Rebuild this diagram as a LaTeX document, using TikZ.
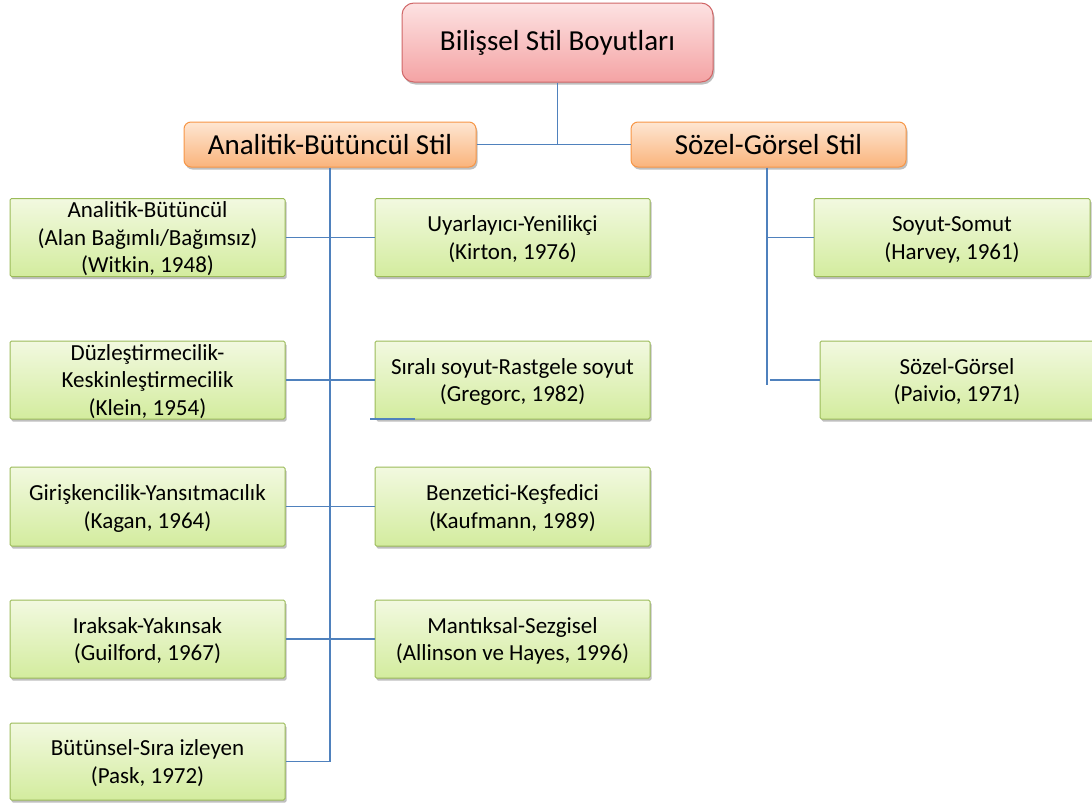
\documentclass[tikz,border=0pt]{standalone}
\usepackage{fontspec}
\setmainfont{Carlito}
\usetikzlibrary{shadows}
\definecolor{lineblue}{HTML}{4F81BD}
\definecolor{gborder}{HTML}{9BBB59}
\definecolor{gtop}{HTML}{F2F9E0}
\definecolor{gbot}{HTML}{D3EC9E}
\definecolor{oborder}{HTML}{F79646}
\definecolor{otop}{HTML}{FEE6D2}
\definecolor{obot}{HTML}{FAB47C}
\definecolor{rborder}{HTML}{D06667}
\definecolor{rtop}{HTML}{FDE2E2}
\definecolor{rbot}{HTML}{F4A3A4}
\newcommand\gtext[1]{\raisebox{-8.5pt}[30pt][30pt]{\begin{tabular}{@{}c@{}}#1\end{tabular}}}
\tikzset{
  shad/.style={drop shadow={shadow xshift=1.5pt,shadow yshift=-2.5pt,fill=black,opacity=0.25}},
  gbox/.style={shad,draw=gborder,line width=1pt,top color=gtop,bottom color=gbot,
    rounded corners=1.5pt,font=\fontsize{23}{27.5}\selectfont,
    minimum width=275pt,minimum height=78pt,inner sep=0pt},
  obox/.style={shad,draw=oborder,line width=1pt,top color=otop,bottom color=obot,
    rounded corners=7pt,align=center,font=\fontsize{29}{33}\selectfont,inner sep=0pt,minimum height=45pt},
  rbox/.style={shad,draw=rborder,line width=1pt,top color=rtop,bottom color=rbot,
    rounded corners=12pt,align=center,font=\fontsize{29}{33}\selectfont,inner sep=0pt,
    minimum width=311pt,minimum height=79pt},
  conn/.style={draw=lineblue,line width=1.4pt}
}
\begin{document}
\begin{tikzpicture}[x=1pt,y=-1pt]
\useasboundingbox (0,0) rectangle (1092,803);
% top
\node[rbox] (top) at (557.5,42.5) {Bilişsel Stil Boyutları};
\node[obox,minimum width=292pt] (ab) at (330,144.5) {Analitik-Bütüncül Stil};
\node[obox,minimum width=275pt] (sg) at (768.5,144.5) {Sözel-Görsel Stil};
% left column
\node[gbox] (l1) at (147.5,237.5) {\gtext{Analitik-Bütüncül\\(Alan Bağımlı/Bağımsız)\\(Witkin, 1948)}};
\node[gbox] (l2) at (147.5,380) {\gtext{Düzleştirmecilik-\\Keskinleştirmecilik\\(Klein, 1954)}};
\node[gbox,minimum height=79pt] (l3) at (147.5,506.5) {\gtext{Girişkencilik-Yansıtmacılık\\(Kagan, 1964)}};
\node[gbox] (l4) at (147.5,639) {\gtext{Iraksak-Yakınsak\\(Guilford, 1967)}};
\node[gbox,minimum height=77pt] (l5) at (147.5,761.5) {\gtext{Bütünsel-Sıra izleyen\\(Pask, 1972)}};
% middle column
\node[gbox] (m1) at (512.5,237.5) {\gtext{Uyarlayıcı-Yenilikçi\\(Kirton, 1976)}};
\node[gbox] (m2) at (512.5,380) {\gtext{Sıralı soyut-Rastgele soyut\\(Gregorc, 1982)}};
\node[gbox,minimum height=79pt] (m3) at (512.5,506.5) {\gtext{Benzetici-Keşfedici\\(Kaufmann, 1989)}};
\node[gbox] (m4) at (512.5,639) {\gtext{Mantıksal-Sezgisel\\(Allinson ve Hayes, 1996)}};
% right column
\node[gbox,minimum width=276pt] (r1) at (952,237.5) {\gtext{Soyut-Somut\\(Harvey, 1961)}};
\node[gbox,minimum width=274pt] (r2) at (957,380) {\gtext{Sözel-Görsel\\(Paivio, 1971)}};
% connectors
\draw[conn] (top.south) -- (top.south |- ab.east);
\draw[conn] (ab.east) -- (sg.west);
\draw[conn] (ab.south) -- (ab.south |- l5.east) -- (l5.east);
\draw[conn] (l1.east) -- (m1.west);
\draw[conn] (l2.east) -- (m2.west);
\draw[conn] (l3.east) -- (m3.west);
\draw[conn] (l4.east) -- (m4.west);
\coordinate (s1) at (370,419);
\coordinate (s2) at (415,419);
\draw[conn] (s1) -- (s2);
\coordinate (rt) at (767,385);
\coordinate (rb) at (770,380);
\draw[conn] (sg.south -| rt) -- (rt);
\draw[conn] (rt |- r1.west) -- (r1.west);
\draw[conn] (rb) -- (r2.west);
\end{tikzpicture}
\end{document}
